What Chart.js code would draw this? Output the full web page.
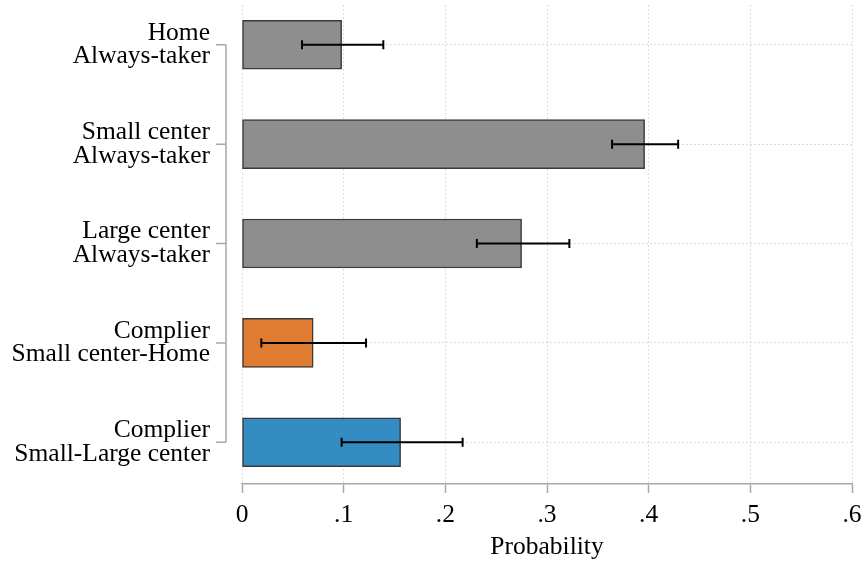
<!DOCTYPE html>
<html>
<head>
<meta charset="utf-8">
<script src="https://cdn.jsdelivr.net/npm/chart.js@4"></script>
<style>
  html, body { margin: 0; padding: 0; background: #fff; }
  #wrap { width: 864px; height: 563px; }
</style>
</head>
<body>
<div id="wrap"><canvas id="probChart" width="864" height="563"></canvas></div>
<script>
// categories (two-line labels) and estimates
const categories = [
    ['Home', 'Always-taker'],
    ['Small center', 'Always-taker'],
    ['Large center', 'Always-taker'],
    ['Complier', 'Small center-Home'],
    ['Complier', 'Small-Large center']
];
const probability = [0.098, 0.396, 0.275, 0.070, 0.156];
const ciLow = [0.059, 0.364, 0.231, 0.019, 0.098];
const ciHigh = [0.139, 0.429, 0.322, 0.122, 0.217];
const barColors = ['#8e8e8e', '#8e8e8e', '#8e8e8e', '#e07b32', '#348dc2'];
const xTickValues = [0, 0.1, 0.2, 0.3, 0.4, 0.5, 0.6];
const xTickLabels = ['0', '.1', '.2', '.3', '.4', '.5', '.6'];

const serif = "'Liberation Serif', 'DejaVu Serif', serif";

// error bars drawn after the bars
const errorBars = {
    id: 'errorBars',
    afterDatasetsDraw(chart) {
        const ctx = chart.ctx;
        const xs = chart.scales.x, ys = chart.scales.y;
        ctx.save();
        ctx.strokeStyle = '#000';
        ctx.lineWidth = 2;
        probability.forEach((p, i) => {
            const y = ys.getPixelForValue(i + 1);
            const x1 = xs.getPixelForValue(ciLow[i]);
            const x2 = xs.getPixelForValue(ciHigh[i]);
            ctx.beginPath();
            ctx.moveTo(x1, y); ctx.lineTo(x2, y);
            ctx.moveTo(x1, y - 4.5); ctx.lineTo(x1, y + 4.5);
            ctx.moveTo(x2, y - 4.5); ctx.lineTo(x2, y + 4.5);
            ctx.stroke();
        });
        ctx.restore();
    }
};

// the detached y axis line, stata style
const yBracket = {
    id: 'yBracket',
    afterDraw(chart) {
        const ctx = chart.ctx;
        const ys = chart.scales.y;
        const x = chart.chartArea.left - 16;
        const top = ys.getPixelForValue(1);
        const bottom = ys.getPixelForValue(categories.length);
        ctx.save();
        ctx.strokeStyle = '#a8a8a8';
        ctx.lineWidth = 1.5;
        ctx.beginPath();
        ctx.moveTo(x, top); ctx.lineTo(x, bottom);
        categories.forEach((c, i) => {
            const y = ys.getPixelForValue(i + 1);
            ctx.moveTo(x - 10, y); ctx.lineTo(x, y);
        });
        ctx.stroke();
        ctx.restore();
    }
};

const ctx = document.getElementById('probChart').getContext('2d');
new Chart(ctx, {
    type: 'bar',
    data: {
        datasets: [{
            data: probability.map((p, i) => ({ x: p, y: i + 1 })),
            backgroundColor: barColors,
            borderColor: '#3a3a3a',
            borderWidth: 1.5,
            borderSkipped: false,
            barThickness: 49
        }]
    },
    options: {
        indexAxis: 'y',
        responsive: false,
        animation: false,
        layout: { padding: { top: 5, right: 12, left: 0, bottom: 0 } },
        plugins: {
            legend: { display: false },
            tooltip: { enabled: false }
        },
        scales: {
            x: {
                type: 'linear',
                min: 0,
                max: 0.6,
                afterBuildTicks: scale => { scale.ticks = xTickValues.map(v => ({ value: v })); },
                afterFit: scale => {
                    scale.height = 79;
                    scale.paddingLeft = 0;
                    scale.paddingRight = 0;
                },
                ticks: {
                    callback: (v, i) => xTickLabels[i],
                    font: { family: serif, size: 25.5 },
                    color: '#000',
                    padding: 7,
                    maxRotation: 0
                },
                grid: {
                    color: '#d2d2d2',
                    lineWidth: 1,
                    tickLength: 9,
                    tickColor: '#a8a8a8',
                    tickWidth: 1.5
                },
                border: { display: true, color: '#a8a8a8', width: 1.5, dash: [1.5, 2.5] },
                title: {
                    display: true,
                    text: 'Probability',
                    font: { family: serif, size: 25.5 },
                    color: '#000',
                    padding: { top: 1, bottom: 0 }
                }
            },
            y: {
                type: 'linear',
                reverse: true,
                offset: false,
                min: 0.6,
                max: 5.42,
                afterBuildTicks: scale => { scale.ticks = categories.map((c, i) => ({ value: i + 1 })); },
                afterFit: scale => {
                    scale.width = 242;
                    scale.paddingTop = 0;
                    scale.paddingBottom = 0;
                },
                ticks: {
                    callback: v => categories[Math.round(v) - 1],
                    font: { family: serif, size: 25.5, lineHeight: 0.92 },
                    color: '#000',
                    padding: 32
                },
                grid: {
                    offset: false,
                    color: '#d2d2d2',
                    lineWidth: 1,
                    drawTicks: false
                },
                border: { display: false, dash: [1.5, 2.5] }
            }
        }
    },
    plugins: [errorBars, yBracket]
});
</script>
</body>
</html>
